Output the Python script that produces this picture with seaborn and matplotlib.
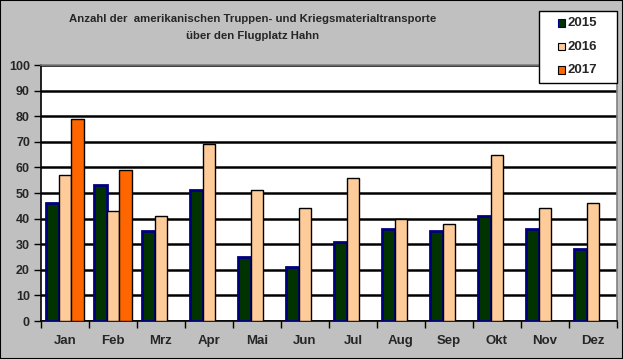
import matplotlib
matplotlib.use("Agg")
import matplotlib.pyplot as plt
import seaborn as sns
import pandas as pd
import numpy as np
from matplotlib.patches import Rectangle

months = ["Jan", "Feb", "Mrz", "Apr", "Mai", "Jun", "Jul", "Aug", "Sep", "Okt", "Nov", "Dez"]
v2015 = [46, 53, 35, 51, 25, 21, 31, 36, 35, 41, 36, 28]
v2016 = [57, 43, 41, 69, 51, 44, 56, 40, 38, 65, 44, 46]
v2017 = [79, 59, None, None, None, None, None, None, None, None, None, None]
years = ["2015", "2016", "2017"]
colors = {"2015": "#003300", "2016": "#FFCC99", "2017": "#FF6600"}
edges = {"2015": "#000080", "2016": "#000000", "2017": "#000000"}
title1 = "Anzahl der  amerikanischen Truppen- und Kriegsmaterialtransporte"
title2 = "über den Flugplatz Hahn"

rows = []
for y, vals in zip(years, [v2015, v2016, v2017]):
    for m, v in zip(months, vals):
        rows.append({"Monat": m, "Jahr": y, "Wert": np.nan if v is None else v})
df = pd.DataFrame(rows)

sns.set_style("white")
plt.rcParams["font.family"] = ["Liberation Sans", "DejaVu Sans"]
plt.rcParams["font.weight"] = "bold"

W, H = 623, 359
fig = plt.figure(figsize=(W/100, H/100), dpi=100, facecolor="#C0C0C0")
ax = fig.add_axes([41/W, 1-321/H, (617-41)/W, (321-65)/H])
ax.set_facecolor("white")

sns.barplot(data=df, x="Monat", y="Wert", hue="Jahr", order=months, hue_order=years,
            palette=colors, ax=ax, width=0.81, saturation=1, legend=False, zorder=3)

for cont, y in zip(ax.containers, years):
    for p in cont:
        p.set_edgecolor(edges[y])
        p.set_linewidth(2.0 if y == "2015" else 1.0)
        p.set_zorder(3)

ax.set_ylim(0, 100)
ax.set_xlim(-0.5, 11.5)
ax.set_yticks(range(0, 101, 10))
ax.yaxis.grid(True, color="black", linewidth=1.8, zorder=1)
ax.set_axisbelow(True)
ax.set_xlabel("")
ax.set_ylabel("")
ax.tick_params(axis="y", direction="out", length=5, width=1, color="black",
               labelsize=9, pad=3, left=True)
ax.set_xticks(range(12))
ax.set_xticklabels(months)
ax.set_xticks(np.arange(-0.5, 12, 1), minor=True)
ax.tick_params(axis="x", which="major", length=0, labelsize=9.5, pad=10)
ax.tick_params(axis="x", which="minor", direction="out", length=5, width=1, color="black", bottom=True)
for lab in ax.get_xticklabels() + ax.get_yticklabels():
    lab.set_fontweight("bold")
for s in ["left", "bottom"]:
    ax.spines[s].set_color("black")
    ax.spines[s].set_linewidth(1.2)
for s in ["top", "right"]:
    ax.spines[s].set_color("#808080")
    ax.spines[s].set_linewidth(1.2)

fig.text(252.5/W, 1-18.5/H, title1, ha="center", va="center", fontsize=8.2, fontweight="bold")
fig.text(252.5/W, 1-36/H, title2, ha="center", va="center", fontsize=8.2, fontweight="bold")

# legend box
fig.patches.append(Rectangle((539/W, 1-83/H), (617-539)/W, (83-11)/H, transform=fig.transFigure,
                             facecolor="white", edgecolor="black", linewidth=1.0, zorder=10))
for i, y in enumerate(years):
    cy = 23 + i * 23.5
    fig.patches.append(Rectangle((558/W, 1-(cy+3.5)/H), 7/W, 7/H, transform=fig.transFigure,
                                 facecolor=colors[y], edgecolor=edges[y] if y == "2015" else "black",
                                 linewidth=0.8, zorder=11))
    fig.text(567/W, 1-cy/H, y, ha="left", va="center", fontsize=9.5, fontweight="bold", zorder=12)

fig.patches.append(Rectangle((0, 0), 1, 1, transform=fig.transFigure, fill=False,
                             edgecolor="black", linewidth=1.5, zorder=20))

fig.savefig("out.png", dpi=100, facecolor=fig.get_facecolor())
